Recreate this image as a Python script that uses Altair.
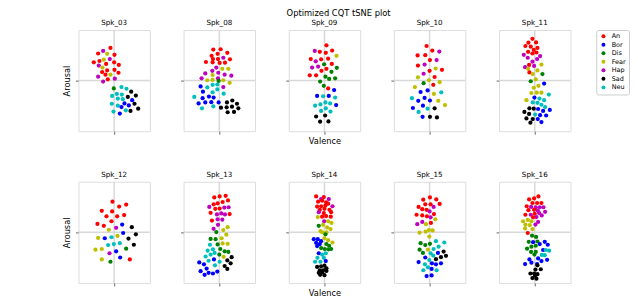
import altair as alt
import pandas as pd

EMOTIONS = ["An", "Bor", "Dis", "Fear", "Hap", "Sad", "Neu"]
COLORS = ["#ff0000", "#0000ff", "#008000", "#bfbf00", "#bf00bf", "#000000", "#00bfbf"]
SPEAKERS = ["Spk_03", "Spk_08", "Spk_09", "Spk_10", "Spk_11",
            "Spk_12", "Spk_13", "Spk_14", "Spk_15", "Spk_16"]

SPK03_VAL = [-11, -33, -48, -21, 1, -31, -44, -61, -13, 0, -24, 14, -46, -35, -21, 1, -36, 13, -26, -11, -48, 2, -19, -33,
             -1, 22, 37, 51, 65, 41, -6, 8, 23, 54, 11, 26, -7, 11, 22, 31, 44, 61, 72, 49, -2, 17, 35]
SPK03_ARO = [100, 91, 83, 82, 79, 64, 60, 56, 66, 56, 51, 48, 46, 40, 31, 33, 26, 24, 18, 18, 12, 6, 4, -3,
             -24, -20, -25, -34, -46, -50, -47, -41, -43, -60, -55, -57, -71, -77, -81, -70, -76, -71, -86, -93, -95, -101, -91]
SPK03_EMO = ["An", "Hap", "An", "Fear", "An", "Fear", "An", "An", "Hap", "An", "An", "An", "Hap", "Fear", "An", "An", "An", "An", "An", "Fear", "Hap", "Hap", "An", "Hap",
             "Dis", "Neu", "Neu", "Sad", "Sad", "Sad", "Neu", "Neu", "Neu", "Bor", "Neu", "Neu", "Neu", "Neu", "Bor", "Bor", "Bor", "Sad", "Sad", "Sad", "Neu", "Bor", "Neu"]

SPK08_VAL = [-18, 4, -23, -5, 24, 12, -19, -4, 32, -40, -20, 1, 17, -9, 9, 27, -21, -3, -42, -20, 16, 36, -53, -4, -36, -20, -2, 12, 31,
             -6, -20, -56, -36, 12, -6, -49, -20, 13, -31, -75, -50, -17, -62, -42, -24, -2, 39, 53, 23, -52, -18, 5, 22, 38, 57, 25, 44]
SPK08_ARO = [95, 96, 76, 82, 85, 70, 66, 66, 65, 57, 56, 54, 55, 40, 36, 36, 30, 24, 22, 17, 18, 15, 7, 7, 1, 2, -1, 1, -7,
             -12, -13, -18, -21, -20, -27, -34, -36, -40, -49, -50, -54, -52, -70, -67, -66, -67, -61, -71, -67, -85, -79, -83, -82, -80, -85, -97, -96]
SPK08_EMO = ["An", "An", "An", "An", "An", "Hap", "An", "An", "An", "An", "An", "An", "An", "Hap", "Fear", "Fear", "Hap", "Hap", "Hap", "Fear", "Hap", "Hap", "Hap", "Hap", "Fear", "Fear", "Dis", "Fear", "Fear",
             "Neu", "Neu", "Bor", "Neu", "Hap", "Neu", "Bor", "Neu", "Neu", "Bor", "Neu", "Bor", "Bor", "Bor", "Bor", "Bor", "Bor", "Sad", "Sad", "Sad", "Neu", "Neu", "Sad", "Sad", "Sad", "Sad", "Sad", "Sad"]

SPK09_VAL = [6, -29, -14, 4, 23, 36, -41, -26, -10, 11, -1, 22, -37, -19, 6, 37, -9, 21, -44, -25, 3, 14, 32, -13, -2,
             11, 29, -22, -4, 13, 32, 3, 17, -28, -12, 35, 4, -10, 18, -25, 2, -13, 12]
SPK09_ARO = [108, 91, 88, 85, 92, 76, 66, 59, 65, 67, 50, 51, 40, 43, 36, 39, 30, 27, 16, 16, 12, 5, 7, -3, -16,
             -24, -29, -47, -48, -47, -52, -67, -70, -77, -73, -75, -85, -93, -95, -110, -107, -126, -125]
SPK09_EMO = ["An", "Hap", "An", "An", "An", "Fear", "An", "Hap", "An", "An", "Dis", "An", "Hap", "Hap", "An", "Dis", "An", "Dis", "An", "An", "Dis", "Dis", "Dis", "Dis", "Dis",
             "An", "Bor", "Bor", "Neu", "Bor", "Neu", "Neu", "Neu", "Neu", "Neu", "Bor", "Neu", "Neu", "Neu", "Sad", "Sad", "Sad", "Sad"]

SPK10_VAL = [-9, 8, 29, -36, -13, 1, 21, -35, -15, 18, 37, 0, -18, -35, 15, -2, 30, -18, 11,
             -44, -6, -27, 35, 13, -53, -15, -34, 1, 26, -20, 46, -50, -6, 15, -33, -21, 1, 22]
SPK10_ARO = [106, 92, 89, 77, 78, 63, 63, 46, 49, 37, 33, 30, 21, 10, 11, 1, -5, -8, -13,
             -20, -30, -35, -36, -41, -54, -53, -62, -61, -62, -77, -75, -84, -86, -85, -96, -111, -111, -113]
SPK10_EMO = ["An", "An", "Hap", "An", "An", "An", "Hap", "An", "Hap", "Fear", "An", "An", "Hap", "Fear", "An", "Fear", "Fear", "Dis", "An",
             "Fear", "Bor", "Bor", "Neu", "Fear", "Neu", "Bor", "Bor", "Bor", "Fear", "Bor", "Fear", "Bor", "Neu", "Sad", "Neu", "Bor", "Sad", "Sad"]

SPK11_VAL = [-7, -19, 4, -28, -12, 8, -3, -20, 5, -7, -33, 16, -21, 7, -7, 20, -17, -29, -2, -20, 8, -16, 23, -6, 3, -12, 11, 28,
             -3, -10, 6, 20, 42, -1, 14, 28, -25, -6, 8, 20, 31, -16, -3, 10, 45, 25, -31, -17, 1, 16, 34, -25, -6, 9, -13, 20]
SPK11_ARO = [128, 116, 117, 106, 104, 100, 94, 88, 86, 83, 79, 75, 70, 66, 58, 49, 48, 41, 45, 36, 31, 25, 20, 20, 4, -2, -16, -9,
             -22, -38, -37, -37, -43, -52, -55, -60, -60, -67, -68, -74, -81, -85, -86, -87, -90, -93, -96, -102, -104, -106, -107, -116, -118, -118, -129, -127]
SPK11_EMO = ["An", "An", "An", "An", "An", "An", "An", "An", "An", "An", "Hap", "Hap", "Hap", "Hap", "Hap", "Fear", "An", "Hap", "Hap", "Fear", "Fear", "An", "Dis", "Fear", "Fear", "Dis", "Fear", "Bor",
             "Fear", "Fear", "Fear", "Fear", "Neu", "Bor", "Neu", "Neu", "Fear", "Neu", "Neu", "Neu", "Neu", "Sad", "Sad", "Bor", "Bor", "Bor", "Sad", "Sad", "Neu", "Bor", "Bor", "Sad", "Sad", "Bor", "Sad", "Bor"]

SPK12_VAL = [-5, 15, 36, -37, -6, -23, 9, 30, -8, -50, -31, -16, 6, 24, 53, 27, 65,
             -48, -28, -8, 10, 43, -18, -1, 17, 59, -56, -37, -14, 6, 36, -37, -11, 18, 47]
SPK12_ARO = [94, 79, 85, 66, 64, 49, 49, 53, 34, 26, 20, 8, 14, 24, 16, -2, -6,
             -17, -18, -15, -11, -19, -39, -36, -33, -38, -53, -51, -64, -58, -50, -83, -90, -77, -83]
SPK12_EMO = ["An", "An", "An", "An", "An", "An", "An", "An", "An", "An", "An", "Fear", "Hap", "Bor", "Sad", "Bor", "Sad",
             "Fear", "Bor", "Neu", "Fear", "Sad", "Neu", "Neu", "Neu", "Sad", "Fear", "Fear", "Hap", "Bor", "Dis", "Fear", "Dis", "Bor", "An"]

SPK13_VAL = [-15, 1, 19, -17, -5, 10, 26, -30, -12, 1, 15, 28, -26, -7, 6, 17, 31, -22, -5, 9, -4, 25, 12, -17, -9, 21,
             -26, -11, 7, -28, -5, 10, 25, -35, -19, 3, 16, 27, -41, -26, -14, 0, 13, 37, -16, -32, 1, 24,
             -60, -46, -13, 34, 16, -38, -56, 24, -44, -32, -19, -6]
SPK13_ARO = [107, 110, 112, 86, 89, 93, 98, 78, 72, 73, 76, 77, 60, 55, 58, 55, 56, 36, 40, 39, 23, 16, 7, 11, 1, -7,
             -20, -21, -18, -38, -37, -34, -35, -56, -52, -51, -58, -60, -74, -68, -63, -68, -75, -76, -83, -87, -90, -86,
             -92, -98, -101, -95, -103, -111, -119, -112, -130, -124, -126, -120]
SPK13_EMO = ["An", "An", "An", "An", "An", "An", "An", "Hap", "An", "An", "Hap", "Hap", "An", "Hap", "Hap", "Hap", "An", "An", "Hap", "Hap", "Hap", "Fear", "Fear", "Hap", "Dis", "Fear",
             "Dis", "Dis", "Fear", "Neu", "Dis", "Fear", "Fear", "Neu", "Neu", "Dis", "Dis", "Dis", "Neu", "Neu", "Neu", "Dis", "Fear", "Sad", "Bor", "Neu", "Neu", "Sad",
             "Bor", "Bor", "Neu", "Sad", "Sad", "Bor", "Bor", "Sad", "Bor", "Bor", "Bor", "Bor"]

SPK14_VAL = [-25, -2, -10, 13, -19, -7, 5, 11, -22, -10, 3, 24, -14, 0, 15, -17, -2, 20, -20, -7, 5, 19, -1, 11, 21,
             -17, -4, 8, 18, -12, -7, 6, 3, 0, 11, 24, -32, -20, -10, -25, -14, -22, 6, 14, -10, 1, 12, 20,
             -17, -7, 4, -21, -2, -28, -12, 4, -22, -10, 0, 6, -14, -4, 6, -17, -7, -13, 0]
SPK14_ARO = [110, 108, 102, 102, 94, 97, 92, 88, 79, 80, 82, 80, 69, 72, 69, 62, 59, 62, 47, 48, 50, 48, 34, 34, 29,
             20, 23, 15, 10, 4, 0, 0, -6, -18, -24, -31, -21, -21, -27, -32, -36, -42, -36, -41, -48, -51, -52, -51,
             -64, -68, -64, -78, -78, -90, -90, -88, -106, -104, -102, -110, -116, -116, -118, -124, -123, -130, -131]
SPK14_EMO = ["An", "An", "Hap", "Hap", "An", "An", "An", "An", "An", "An", "An", "Hap", "An", "An", "An", "Hap", "An", "An", "Fear", "An", "An", "An", "Hap", "Fear", "Fear",
             "Dis", "Fear", "Fear", "Fear", "Fear", "Fear", "Fear", "Dis", "Fear", "Fear", "Fear", "Bor", "Bor", "Bor", "Bor", "Bor", "Bor", "Dis", "Dis", "Dis", "Dis", "Dis", "Dis",
             "Bor", "Neu", "Neu", "Neu", "Neu", "Neu", "Neu", "Bor", "Sad", "Sad", "Sad", "Sad", "Sad", "Sad", "Sad", "Sad", "Sad", "Sad", "Sad"]

SPK15_VAL = [1, -19, 20, -13, 3, 30, -33, -22, -9, 12, 0, -39, -22, -8, 3, 13, 17, -22, 4, -37, -11, -2, 9, -12, -30, -1,
             -27, -13, 1, 19, 44, 27, -30, 12, -5, -20, 3, 25, 42, 11, -13, 49, 34, 19, -33, -1, -14, 7, 19, 34, -5, -19, 6, 21, -9, 6]
SPK15_ARO = [107, 100, 101, 86, 86, 87, 78, 71, 69, 78, 64, 54, 52, 49, 46, 56, 40, 32, 29, 25, 25, 7, 6, 2, -1, -13,
             -33, -39, -35, -27, -31, -44, -53, -51, -53, -63, -64, -63, -59, -71, -77, -72, -76, -82, -91, -85, -98, -95, -98, -95, -107, -116, -112, -116, -134, -132]
SPK15_EMO = ["An", "An", "An", "An", "An", "An", "An", "An", "An", "Hap", "Hap", "An", "An", "An", "Hap", "An", "Fear", "Hap", "An", "Hap", "Fear", "Fear", "Fear", "Fear", "Fear", "Fear",
             "Dis", "Dis", "Dis", "Neu", "Neu", "Neu", "Dis", "Neu", "Fear", "Dis", "Neu", "Bor", "Sad", "Neu", "Bor", "Sad", "Sad", "Sad", "Bor", "Neu", "Neu", "Bor", "Bor", "Bor", "Neu", "Neu", "Bor", "Neu", "Bor", "Bor"]

SPK16_VAL = [-17, -2, 11, -7, 7, 20, -24, -11, 3, 15, 26, -19, -2, 9, 31, -28, -12, 0, 13, 21, 5, -5, -35, -21, -10, 10, -28, -15, 2, -29, -7,
             -21, -8, 4, -18, -5, 8, 30, 15, 39, -23, -10, 3, 25, 33, 43, -11, 3, -1, 21, 30, -16, 10, 20, 37, -29, -10, 7,
             8, 2, 18, -13, -2, 8, -7, 5, 1]
SPK16_ARO = [101, 104, 110, 90, 90, 90, 80, 78, 77, 77, 77, 68, 69, 67, 63, 54, 54, 57, 59, 52, 47, 46, 34, 38, 34, 32, 24, 22, 24, 12, 10,
             -2, -10, -14, -29, -30, -28, -29, -36, -38, -50, -44, -41, -54, -54, -56, -60, -60, -68, -69, -70, -83, -80, -88, -84, -97, -93, -97,
             -101, -114, -113, -126, -126, -128, -140, -142, -133]
SPK16_EMO = ["An", "An", "An", "An", "An", "An", "An", "Hap", "Hap", "Hap", "Hap", "An", "An", "Hap", "Hap", "An", "Hap", "An", "Hap", "Hap", "Hap", "An", "Fear", "Fear", "Fear", "Hap", "Fear", "Fear", "Hap", "Fear", "Fear",
             "An", "Dis", "Dis", "Dis", "Bor", "Dis", "Bor", "Bor", "Bor", "Dis", "Dis", "Dis", "Bor", "Neu", "Neu", "Dis", "Dis", "Dis", "Neu", "Neu", "Bor", "Bor", "Bor", "Bor", "Bor", "Bor", "Bor",
             "Sad", "Sad", "Sad", "Sad", "Sad", "Sad", "Sad", "Sad", "Sad"]

SERIES = {
    "Spk_03": (SPK03_VAL, SPK03_ARO, SPK03_EMO),
    "Spk_08": (SPK08_VAL, SPK08_ARO, SPK08_EMO),
    "Spk_09": (SPK09_VAL, SPK09_ARO, SPK09_EMO),
    "Spk_10": (SPK10_VAL, SPK10_ARO, SPK10_EMO),
    "Spk_11": (SPK11_VAL, SPK11_ARO, SPK11_EMO),
    "Spk_12": (SPK12_VAL, SPK12_ARO, SPK12_EMO),
    "Spk_13": (SPK13_VAL, SPK13_ARO, SPK13_EMO),
    "Spk_14": (SPK14_VAL, SPK14_ARO, SPK14_EMO),
    "Spk_15": (SPK15_VAL, SPK15_ARO, SPK15_EMO),
    "Spk_16": (SPK16_VAL, SPK16_ARO, SPK16_EMO),
}

rows = []
for spk, (vals, aros, emos) in SERIES.items():
    for v, a, e in zip(vals, aros, emos):
        rows.append({"speaker": spk, "valence": v, "arousal": a, "emotion": e})
df = pd.DataFrame(rows)

FONT = "DejaVu Sans"
XDOM = [-107, 107]
YDOM = [-155, 155]

color_enc = alt.Color(
    "emotion:N",
    scale=alt.Scale(domain=EMOTIONS, range=COLORS),
    legend=alt.Legend(
        title=None, orient="right", offset=24, labelFontSize=6.5, labelFont=FONT,
        symbolType="circle", symbolSize=16, symbolStrokeWidth=0, rowPadding=1.6,
        padding=3, strokeColor="#cccccc", cornerRadius=2, fillColor="white",
        labelOffset=5, symbolOffset=1,
    ),
)

panels = []
for i, spk in enumerate(SPEAKERS):
    xaxis = alt.Axis(values=[0], labels=False, grid=False, domain=False, tickSize=3,
                     tickColor="#666666", tickWidth=1,
                     title="Valence" if i in (2, 7) else None,
                     titleFont=FONT, titleFontSize=8.3, titleFontWeight="normal",
                     titleColor="black", titlePadding=2)
    yaxis = alt.Axis(values=[0], labels=False, grid=False, domain=False, tickSize=3,
                     tickColor="#666666", tickWidth=1,
                     title="Arousal" if i in (0, 5) else None,
                     titleFont=FONT, titleFontSize=8.3, titleFontWeight="normal",
                     titleColor="black", titlePadding=4)
    base = alt.Chart(df).transform_filter(alt.datum.speaker == spk)
    vrule = alt.Chart(df).transform_filter(alt.datum.speaker == spk).transform_aggregate(
        n="count()").mark_rule(color="#d8d8d8", strokeWidth=1.5).encode(
        x=alt.datum(0, scale=alt.Scale(domain=XDOM, nice=False, zero=False), axis=xaxis, type="quantitative"))
    hrule = alt.Chart(df).transform_filter(alt.datum.speaker == spk).transform_aggregate(
        n="count()").mark_rule(color="#d8d8d8", strokeWidth=1.5).encode(
        y=alt.datum(0, type="quantitative"))
    pts = base.mark_circle(size=18, opacity=1).encode(
        x=alt.X("valence:Q", scale=alt.Scale(domain=XDOM, nice=False, zero=False), axis=xaxis),
        y=alt.Y("arousal:Q", scale=alt.Scale(domain=YDOM, nice=False, zero=False), axis=yaxis),
        color=color_enc,
    )
    panel = alt.layer(vrule, hrule, pts).properties(
        width=72, height=102,
        title=alt.TitleParams(spk, font=FONT, fontSize=7.2, fontWeight="normal",
                              offset=3, color="black"),
    )
    panels.append(panel)

chart = alt.concat(*panels, columns=5, spacing={"row": 51, "column": 34}, bounds="flush").properties(
    title=alt.TitleParams("Optimized CQT tSNE plot", font=FONT, fontSize=8.4,
                          fontWeight="normal", offset=1, dx=-7, anchor="middle", color="black"),
    padding={"left": 54, "top": 0, "right": 0, "bottom": 0},
).configure_view(stroke="#666666", strokeWidth=1).configure(font=FONT)

chart.save("out.html", embed_options={"renderer": "svg", "actions": False})
